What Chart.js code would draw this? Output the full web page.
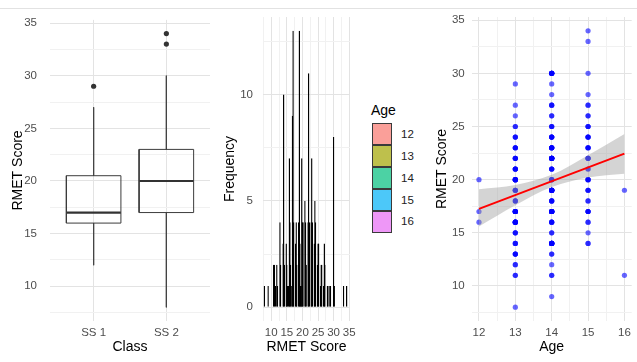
<!DOCTYPE html>
<html>
<head>
<meta charset="utf-8">
<script src="https://cdn.jsdelivr.net/npm/chart.js@4.4.1/dist/chart.umd.min.js"></script>
<style>
  body { margin: 0; background: #fff; }
  #wrap { position: relative; width: 637px; height: 362px; overflow: hidden; font-family: 'Liberation Sans', Arial, sans-serif; }
  canvas { position: absolute; top: 0; }
  #topline { position: absolute; left: 0; top: 8px; width: 637px; height: 1px; background: #e2e2e2; }
  .leg-title { position: absolute; left: 371px; top: 102px; font-size: 14px; line-height: 17px; color: #000; }
  .leg-key { position: absolute; left: 372px; width: 20px; height: 22px; box-sizing: border-box; border: 1px solid #3a3a3a; }
  .leg-label { position: absolute; left: 401px; font-size: 11.5px; line-height: 13px; color: #222; }
</style>
</head>
<body>
<div id="wrap">
  <div id="topline"></div>
  <canvas id="boxChart" width="215" height="362" style="left:0"></canvas>
  <canvas id="histChart" width="150" height="362" style="left:215px"></canvas>
  <div id="legend"></div>
  <canvas id="ageChart" width="212" height="362" style="left:425px"></canvas>
</div>
<script>
// box plot by class
const classNames = ['SS 1', 'SS 2'];
const whiskerLow = [12, 8];
const q1 = [16, 17];
const medians = [17, 20];
const q3 = [20.5, 23];
const whiskerHigh = [27, 30];
const outliers = [[29], [33, 34]];

// number of students per RMET score, one list per age
const scores = [8, 9, 10, 11, 12, 13, 14, 15, 16, 17, 18, 19, 20, 21, 22, 23, 24, 25, 26, 27, 28, 29, 30, 31, 32, 33, 34];
const ages = [12, 13, 14, 15, 16];
const countsAge12 = [0, 0, 0, 0, 0, 0, 0, 0, 1, 1, 0, 0, 1, 0, 0, 0, 0, 0, 0, 0, 0, 0, 0, 0, 0, 0, 0];
const countsAge13 = [1, 0, 0, 2, 2, 4, 3, 3, 7, 9, 3, 4, 7, 5, 4, 4, 3, 2, 1, 1, 0, 1, 0, 0, 0, 0, 0];
const countsAge14 = [0, 1, 0, 2, 1, 2, 10, 2, 4, 13, 4, 13, 4, 4, 11, 7, 5, 3, 2, 3, 1, 1, 8, 0, 0, 0, 0];
const countsAge15 = [0, 0, 0, 0, 0, 0, 2, 1, 2, 4, 2, 3, 4, 2, 4, 4, 4, 3, 2, 2, 1, 0, 1, 0, 0, 1, 1];
const countsAge16 = [0, 0, 0, 1, 0, 0, 0, 0, 0, 0, 0, 1, 0, 0, 0, 0, 0, 0, 0, 0, 0, 0, 0, 0, 0, 0, 0];
const ageCounts = [countsAge12, countsAge13, countsAge14, countsAge15, countsAge16];
const ageColors = ['rgba(248,118,109,0.7)', 'rgba(163,165,0,0.7)', 'rgba(0,191,125,0.7)', 'rgba(0,176,246,0.7)', 'rgba(231,107,243,0.7)'];

// linear fit with its confidence band
const fitAges = [12, 16];
const fitScores = [17.25, 22.45];
const bandAges = [12, 13, 14, 15, 16];
const bandUpper = [19.1, 19.5, 20.45, 22.3, 24.3];
const bandLower = [15.6, 17.6, 19.3, 20.2, 20.55];

// ticks (minor ones get a grid line but no label)
const scoreTicks = [7.5, 10, 12.5, 15, 17.5, 20, 22.5, 25, 27.5, 30, 32.5, 35];
const freqTicks = [0, 2.5, 5, 7.5, 10, 12.5];
const histTicks = [7.5, 10, 12.5, 15, 17.5, 20, 22.5, 25, 27.5, 30, 32.5, 35];
const ageTicks = [12, 12.5, 13, 13.5, 14, 14.5, 15, 15.5, 16];
const classTicks = [1, 2];

Chart.defaults.font.family = "'Liberation Sans', Arial, sans-serif";
Chart.defaults.animation = false;
Chart.defaults.events = [];
Chart.defaults.plugins.legend.display = false;
Chart.defaults.plugins.tooltip.enabled = false;

const MAJOR = '#e3e3e3';
const MINOR = '#f1f1f1';
const byFive = v => v % 5 === 0;
const whole = v => v % 1 === 0;

function axis(o) {
    return {
        type: 'linear',
        min: o.min,
        max: o.max,
        offset: false,
        afterBuildTicks: s => { s.ticks = o.ticks.map(v => ({ value: v })); },
        afterFit: s => {
            if (s.isHorizontal()) s.height = o.size;
            else s.width = o.size;
        },
        grid: {
            color: c => (c.tick && o.major(c.tick.value)) ? MAJOR : MINOR,
            drawTicks: false,
            offset: false
        },
        border: { display: false },
        ticks: {
            autoSkip: false,
            maxRotation: 0,
            minRotation: 0,
            padding: o.pad,
            color: '#4d4d4d',
            font: { size: 11.5 },
            callback: o.label
        },
        title: {
            display: true,
            text: o.title,
            color: '#000',
            font: { size: 14 },
            padding: { top: 0, bottom: 6 }
        }
    };
}

const scoreLabel = v => (v % 5 === 0 ? String(v) : '');

// ---- box plot ----
const BOX_HALF = 0.375;
const boxDatasets = [];
classNames.forEach((name, i) => {
    const x = i + 1;
    boxDatasets.push({
        data: [
            { x: x - BOX_HALF, y: q1[i] }, { x: x + BOX_HALF, y: q1[i] },
            { x: x + BOX_HALF, y: q3[i] }, { x: x - BOX_HALF, y: q3[i] },
            { x: x - BOX_HALF, y: q1[i] }
        ],
        showLine: true, borderColor: '#3c3c3c', borderWidth: 1, pointRadius: 0, tension: 0
    });
    boxDatasets.push({
        data: [
            { x: x, y: whiskerHigh[i] }, { x: x, y: q3[i] }, { x: x, y: null },
            { x: x, y: q1[i] }, { x: x, y: whiskerLow[i] }
        ],
        showLine: true, spanGaps: false, borderColor: '#444', borderWidth: 1, pointRadius: 0
    });
    boxDatasets.push({
        data: [{ x: x - BOX_HALF, y: medians[i] }, { x: x + BOX_HALF, y: medians[i] }],
        showLine: true, borderColor: '#333', borderWidth: 2.2, pointRadius: 0
    });
    boxDatasets.push({
        data: outliers[i].map(v => ({ x: x, y: v })),
        pointRadius: 2.6, backgroundColor: '#333', borderWidth: 0
    });
});

new Chart(document.getElementById('boxChart'), {
    type: 'scatter',
    data: { datasets: boxDatasets },
    options: {
        responsive: false,
        layout: { padding: { left: 10, right: 5, top: 17, bottom: 0 } },
        scales: {
            x: axis({ min: 0.4, max: 2.6, ticks: classTicks, major: () => true, size: 41, pad: 5,
                      label: v => classNames[v - 1] || '', title: 'Class' }),
            y: axis({ min: 6.7, max: 35.3, ticks: scoreTicks, major: byFive, size: 40, pad: 13,
                      label: scoreLabel, title: 'RMET Score' })
        }
    }
});

// ---- histogram ----
const histDatasets = ages.map((age, k) => ({
    label: String(age),
    data: scores.map((s, j) => ({ x: s, y: ageCounts[k][j] })),
    backgroundColor: ageColors[k],
    borderColor: '#000',
    borderWidth: 1,
    inflateAmount: 0,
    categoryPercentage: 1,
    barPercentage: 2.3
}));

new Chart(document.getElementById('histChart'), {
    type: 'bar',
    data: { datasets: histDatasets },
    options: {
        responsive: false,
        layout: { padding: { left: 7, right: 15, top: 17, bottom: 0 } },
        scales: {
            x: axis({ min: 7.36, max: 35.25, ticks: histTicks, major: byFive, size: 41, pad: 5,
                      label: scoreLabel, title: 'RMET Score' }),
            y: axis({ min: -0.65, max: 13.65, ticks: freqTicks, major: byFive, size: 41, pad: 10,
                      label: scoreLabel, title: 'Frequency' })
        }
    }
});

// legend for the fill by age
const legend = document.getElementById('legend');
const legTitle = document.createElement('div');
legTitle.className = 'leg-title';
legTitle.textContent = 'Age';
legend.appendChild(legTitle);
ages.forEach((age, k) => {
    const top = 123.3 + k * 21.9;
    const key = document.createElement('div');
    key.className = 'leg-key';
    key.style.top = top + 'px';
    key.style.background = ageColors[k];
    legend.appendChild(key);
    const lab = document.createElement('div');
    lab.className = 'leg-label';
    lab.style.top = (top + 4.5) + 'px';
    lab.textContent = String(age);
    legend.appendChild(lab);
});

// ---- scatter with linear fit ----
const points = [];
ages.forEach((age, k) => {
    scores.forEach((s, j) => {
        for (let n = 0; n < ageCounts[k][j]; n++) points.push({ x: age, y: s });
    });
});

new Chart(document.getElementById('ageChart'), {
    type: 'scatter',
    data: {
        datasets: [
            {
                data: fitAges.map((a, i) => ({ x: a, y: fitScores[i] })),
                showLine: true, borderColor: '#ff0000', borderWidth: 2, pointRadius: 0
            },
            {
                data: bandAges.map((a, i) => ({ x: a, y: bandUpper[i] })),
                showLine: true, borderWidth: 0, borderColor: 'rgba(0,0,0,0)', pointRadius: 0,
                cubicInterpolationMode: 'monotone'
            },
            {
                data: bandAges.map((a, i) => ({ x: a, y: bandLower[i] })),
                showLine: true, borderWidth: 0, borderColor: 'rgba(0,0,0,0)', pointRadius: 0,
                cubicInterpolationMode: 'monotone',
                fill: '-1', backgroundColor: 'rgba(153,153,153,0.42)'
            },
            {
                data: points,
                pointRadius: 2.6, borderWidth: 0, backgroundColor: 'rgba(0,0,255,0.6)'
            }
        ]
    },
    options: {
        responsive: false,
        layout: { padding: { left: 8.6, right: 5.3, top: 17, bottom: 0 } },
        scales: {
            x: axis({ min: 11.8, max: 16.2, ticks: ageTicks, major: whole, size: 41, pad: 5,
                      label: v => (v % 1 === 0 ? String(v) : ''), title: 'Age' }),
            y: axis({ min: 6.7, max: 35.3, ticks: scoreTicks, major: byFive, size: 38.1, pad: 7,
                      label: scoreLabel, title: 'RMET Score' })
        }
    }
});
</script>
</body>
</html>
